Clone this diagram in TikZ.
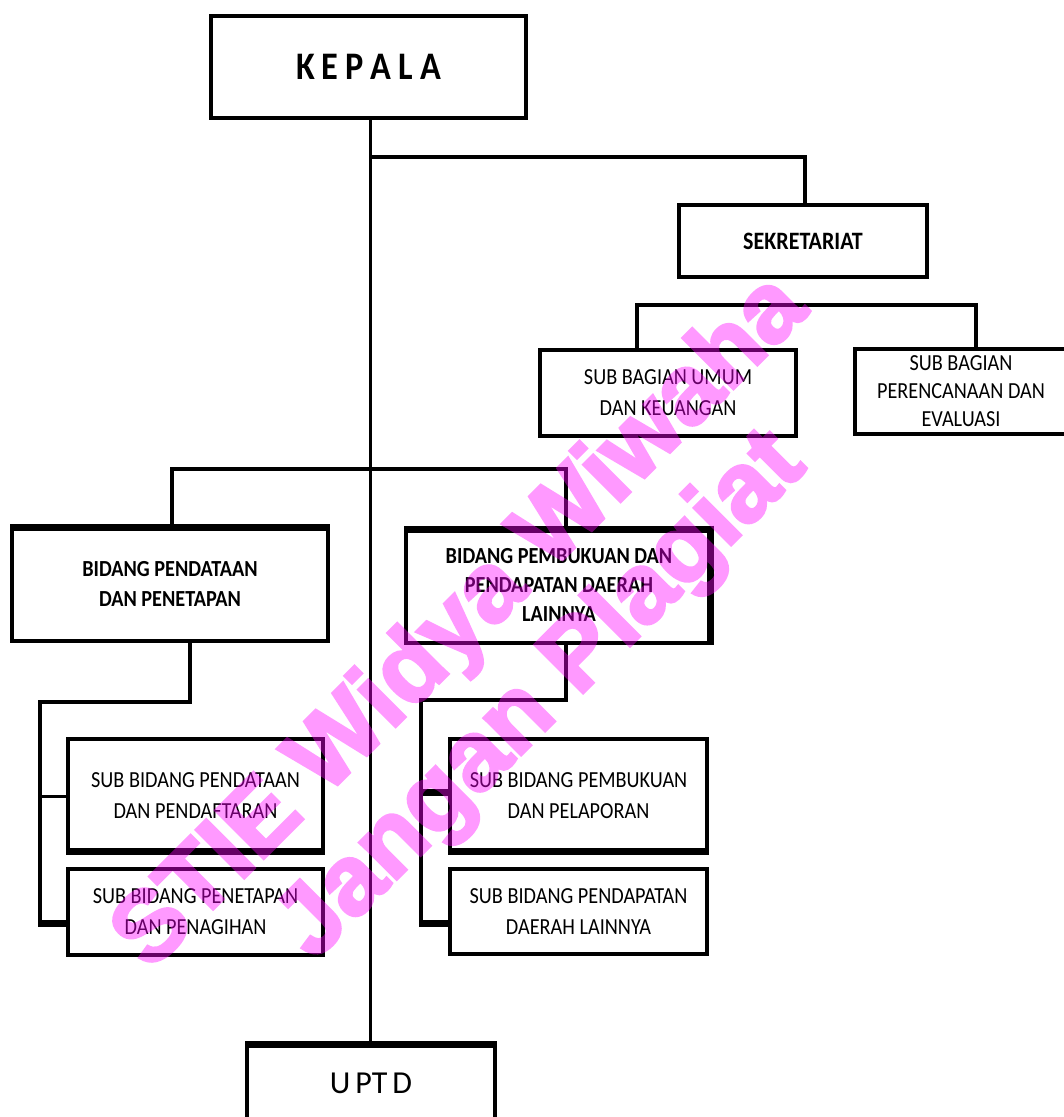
\documentclass[tikz,border=0pt]{standalone}
\usepackage{fontspec}
\setmainfont{Carlito}
\newfontfamily\orgfont{Carlito}[FakeStretch=0.88]
\newfontfamily\wmfont{Liberation Sans}[BoldFeatures={FakeBold=3}]
\usetikzlibrary{calc}
\definecolor{wmcol}{RGB}{255,0,255}
\begin{document}
\begin{tikzpicture}[x=1pt,y=-1pt,
  box/.style={draw, line width=4pt, inner sep=0pt, outer sep=0pt, align=center,
    font=\orgfont\fontsize{23}{31}\selectfont},
  bbox/.style={box, font=\orgfont\bfseries\fontsize{23}{30}\selectfont},
  conn/.style={line width=4pt},
  thinconn/.style={line width=3pt},
  heavy/.style={line width=7pt},
  wm/.style={font=\wmfont\bfseries\fontsize{99}{99}\selectfont, text=wmcol,
    rotate=45, inner sep=0pt}
]
\useasboundingbox (0,0) rectangle (1064,1117);
\clip (0,0) rectangle (1064,1117);
\fill[white] (0,0) rectangle (1064,1117);

% boxes
\node[bbox, minimum width=315pt, minimum height=102pt,
  font=\orgfont\bfseries\fontsize{39}{39}\selectfont] (kepala) at (368.5,67)
  {K\kern7pt E\kern7pt P\kern7pt A\kern7pt L\kern7pt A};
\node[bbox, minimum width=248pt, minimum height=72pt,
  font=\orgfont\bfseries\fontsize{25}{29}\selectfont] (sekr) at (803,241) {SEKRETARIAT};
\node[box, minimum width=256pt, minimum height=86pt] (sbu) at (668,393)
  {SUB BAGIAN UMUM\\DAN KEUANGAN};
\node[box, minimum width=212pt, minimum height=85pt,
  font=\orgfont\fontsize{23}{28}\selectfont] (sbp) at (961,391.5)
  {SUB BAGIAN\\PERENCANAAN DAN\\EVALUASI};
\node[bbox, minimum width=316pt, minimum height=115pt] (bpd) at (170,583.5)
  {BIDANG PENDATAAN\\DAN PENETAPAN};
\node[bbox, minimum width=306pt, minimum height=115pt,
  font=\orgfont\bfseries\fontsize{23}{29}\selectfont] (bpb) at (559,585)
  {BIDANG PEMBUKUAN DAN\\PENDAPATAN DAERAH\\LAINNYA};
\node[box, minimum width=255pt, minimum height=114pt] (sbpd) at (195.5,796)
  {SUB BIDANG PENDATAAN\\DAN PENDAFTARAN};
\node[box, minimum width=255pt, minimum height=86pt] (sbpt) at (195.5,912)
  {SUB BIDANG PENETAPAN\\DAN PENAGIHAN};
\node[box, minimum width=257pt, minimum height=114pt] (sbpb) at (578.5,796)
  {SUB BIDANG PEMBUKUAN\\DAN PELAPORAN};
\node[box, minimum width=257pt, minimum height=85pt] (sbpdl) at (578.5,911.5)
  {SUB BIDANG PENDAPATAN\\DAERAH LAINNYA};
\node[box, minimum width=248pt, minimum height=81pt,
  font=\fontsize{32}{32}\selectfont] (uptd) at (371,1083.5)
  {U\kern5pt PT\kern5pt D};

% heavy edges
\draw[heavy] ($(bpd.north west)+(-2,1.5)$) -- ($(bpd.north east)+(2,1.5)$);
\draw[heavy] ($(bpb.north west)+(-2,1.5)$) -- ($(bpb.north east)+(2,1.5)$);
\draw[heavy] ($(bpb.north east)+(-1.5,-2)$) -- ($(bpb.south east)+(-1.5,2)$);
\draw[heavy] ($(sbpd.south west)+(-2,-1.5)$) -- ($(sbpd.south east)+(2,-1.5)$);
\draw[heavy] ($(sbpb.south west)+(-2,-1.5)$) -- ($(sbpb.south east)+(2,-1.5)$);
\draw[heavy] ($(uptd.north west)+(-2,1.5)$) -- ($(uptd.north east)+(2,1.5)$);

% connector points
\coordinate (tx) at (370,0);
\coordinate (j1) at (370,157);
\coordinate (j1e) at (805,157);
\coordinate (b1) at (637,305);
\coordinate (b2) at (976,305);
\coordinate (c1) at (172,469);
\coordinate (c2) at (566,469);
\coordinate (d1) at (190,702);
\coordinate (d2) at (40,702);
\coordinate (d3) at (40,923);
\coordinate (e1) at (566,700);
\coordinate (e2) at (421,700);
\coordinate (e3) at (421,923);

% connectors
\draw[thinconn] (kepala.south -| tx) -- (uptd.north -| tx);
\draw[conn] (j1) -- (j1e) -- (j1e |- sekr.north);
\draw[conn] (b1 |- sbu.north) -- (b1) -- (b2) -- (b2 |- sbp.north);
\draw[conn] (c1 |- bpd.north) -- (c1) -- (c2) -- (c2 |- bpb.north);
\draw[conn] (bpd.south -| d1) -- (d1) -- (d2) -- ($(d3)+(0,3.5)$);
\draw[thinconn] (d2 |- sbpd.west) -- (sbpd.west);
\draw[heavy] ($(d3)+(-2,0)$) -- (d3 -| sbpt.west);
\draw[conn] (bpb.south -| e1) -- (e1) -- (e2) -- ($(e3)+(0,3.5)$);
\draw[heavy] ($(e2 |- sbpb.west)+(-2,-4)$) -- ($(sbpb.west)+(0,-4)$);
\draw[heavy] ($(e3)+(-2,0)$) -- (e3 -| sbpdl.west);

% watermark
\begin{scope}[transparency group, opacity=0.4]
\node[wm] (wm1) at (462,624) {STIE Widya Wiwaha};
\node[wm] (wm2) at (543,697) {Jangan Plagiat};
\end{scope}
\end{tikzpicture}
\end{document}
